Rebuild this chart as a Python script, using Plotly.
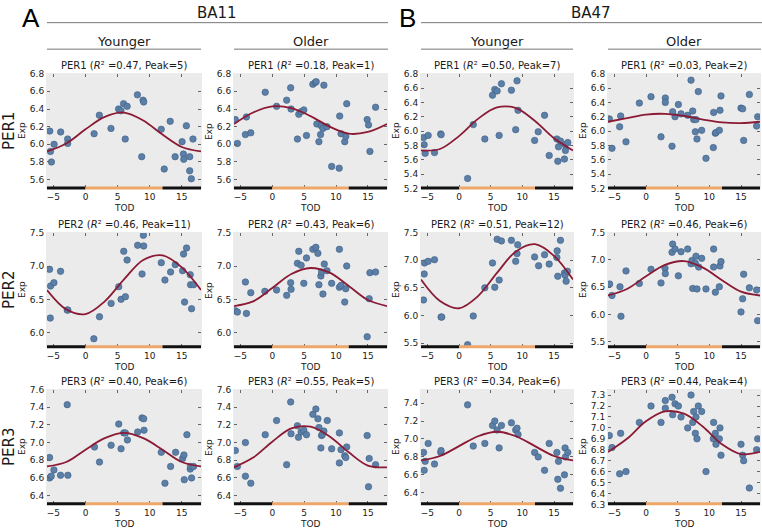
import plotly.graph_objects as go

# ------------------------------------------------------------------ data
TOD_TICKS = [-5, 0, 5, 10, 15]
TOD_RANGE = [-6, 18]
PHASE_EDGES = [-6, 0, 12, 18]
PHASE_COLORS = ["#111111", "#eea769", "#111111"]
GENES = ["PER1", "PER2", "PER3"]
REGIONS = ["BA11", "BA47"]
AGES = ["Younger", "Older"]
R2 = [[0.47, 0.18, 0.50, 0.03], [0.46, 0.43, 0.51, 0.46], [0.40, 0.55, 0.34, 0.44]]
PEAK = [[5, 1, 7, 2], [11, 6, 12, 6], [6, 5, 6, 4]]
FIT_TOD = [-6, -3, 0, 3, 6, 9, 12, 15, 18]

# BA11 younger
ba11_y_per1_tod = [-5.57, -5.46, -5.31, -4.9, -3.87, -2.78, -2.78, 1.34, 2.16, 3.97, 5.15, 5.52, 5.93, 6.19, 6.49, 8.09, 8.76, 8.97, 9.07, 11.8, 12.27, 13.2, 13.97, 15.05, 15.26, 15.31, 15.72, 16.24, 16.24, 16.49, 16.75]
ba11_y_per1_exp = [6.15, 5.92, 5.80, 6.00, 6.14, 6.06, 6.01, 6.12, 6.33, 6.18, 6.40, 6.38, 6.46, 6.06, 6.43, 6.56, 5.86, 6.50, 6.48, 6.17, 5.72, 6.26, 5.86, 6.03, 5.89, 5.83, 6.21, 5.86, 5.70, 5.61, 6.06]
ba11_y_per1_fit = [5.92, 6.01, 6.17, 6.31, 6.36, 6.27, 6.11, 5.97, 5.92]
ba11_y_per2_tod = [-5.6, -5.49, -5.44, -4.92, -3.89, -2.85, -2.75, 1.3, 2.18, 3.99, 5.18, 5.54, 5.96, 6.22, 6.48, 8.13, 8.81, 9.02, 9.07, 11.81, 12.38, 13.26, 13.99, 15.13, 15.28, 15.44, 15.75, 16.32, 16.37, 16.53, 16.84]
ba11_y_per2_exp = [6.95, 6.22, 6.70, 6.75, 6.92, 6.34, 6.34, 5.91, 6.24, 6.44, 6.69, 6.50, 7.22, 6.54, 7.09, 7.31, 6.88, 7.46, 7.30, 7.05, 6.79, 6.91, 7.02, 6.93, 7.18, 6.46, 7.27, 6.87, 6.72, 6.36, 6.72]
ba11_y_per2_fit = [6.64, 6.35, 6.28, 6.47, 6.80, 7.09, 7.16, 6.98, 6.64]
ba11_y_per3_tod = [-5.6, -5.6, -5.34, -4.92, -3.89, -2.85, -2.75, 1.4, 2.18, 3.99, 5.18, 5.54, 5.96, 6.22, 6.53, 8.13, 8.81, 9.07, 9.12, 11.81, 12.38, 13.26, 14.04, 15.13, 15.34, 15.39, 15.8, 16.32, 16.37, 16.53, 16.84]
ba11_y_per3_exp = [6.83, 6.60, 6.62, 6.69, 6.63, 7.43, 6.63, 6.95, 6.78, 6.97, 7.21, 6.93, 7.11, 7.11, 7.03, 7.12, 7.28, 7.27, 7.14, 6.89, 6.54, 6.73, 6.89, 6.82, 6.86, 6.58, 7.09, 6.70, 6.73, 6.60, 6.73]
ba11_y_per3_fit = [6.73, 6.78, 6.92, 7.05, 7.11, 7.05, 6.92, 6.78, 6.73]

# BA11 older
ba11_o_per1_tod = [-5.79, -5.47, -4.21, -4.05, -3.37, -1.1, 0.68, 2.26, 2.89, 2.95, 3.95, 4.16, 4.53, 4.95, 5.37, 6.37, 6.74, 6.89, 7.0, 7.32, 7.58, 7.68, 7.95, 8.1, 8.58, 9.32, 10.5, 10.58, 10.79, 11.37, 11.53, 11.68, 14.89, 15.1, 15.32, 16.21]
ba11_o_per1_exp = [6.28, 6.01, 6.11, 6.31, 6.13, 6.59, 6.43, 6.50, 6.64, 6.40, 6.06, 6.34, 6.37, 6.39, 6.10, 6.68, 6.70, 6.71, 6.23, 6.03, 6.11, 6.21, 6.18, 6.67, 6.20, 5.75, 5.73, 6.32, 6.12, 6.03, 6.09, 6.46, 6.28, 6.22, 5.92, 6.42]
ba11_o_per1_fit = [6.23, 6.36, 6.43, 6.41, 6.32, 6.20, 6.12, 6.14, 6.23]
ba11_o_per2_tod = [-5.79, -5.47, -4.21, -4.05, -3.37, -1.16, 0.68, 2.26, 2.89, 2.95, 3.95, 4.16, 4.53, 4.95, 5.37, 6.37, 6.84, 7.16, 7.32, 7.63, 7.74, 7.95, 8.16, 8.58, 9.32, 10.53, 10.53, 10.79, 11.37, 11.53, 11.68, 14.89, 15.21, 15.32, 16.21]
ba11_o_per2_exp = [6.33, 6.31, 6.76, 6.29, 6.60, 6.62, 6.64, 6.56, 6.75, 6.65, 7.04, 7.22, 7.01, 6.74, 7.12, 7.25, 7.28, 7.19, 6.72, 6.85, 6.91, 6.58, 7.03, 6.93, 6.74, 7.25, 6.68, 6.71, 6.46, 6.66, 7.00, 5.94, 6.51, 6.90, 6.91]
ba11_o_per2_fit = [6.40, 6.47, 6.67, 6.88, 6.97, 6.90, 6.70, 6.49, 6.40]
ba11_o_per3_tod = [-5.79, -5.47, -4.21, -4.21, -3.37, -1.1, 0.68, 2.26, 2.89, 2.95, 3.95, 4.11, 4.53, 4.95, 5.37, 6.37, 6.84, 7.16, 7.32, 7.63, 7.74, 7.84, 8.1, 8.63, 9.32, 10.53, 10.53, 10.79, 11.37, 11.53, 11.68, 14.89, 15.21, 15.1, 16.21]
ba11_o_per3_exp = [6.91, 6.73, 7.00, 6.62, 6.54, 7.09, 7.25, 6.75, 7.46, 7.10, 7.19, 7.06, 7.12, 7.14, 7.09, 7.32, 7.38, 7.27, 7.17, 6.94, 7.08, 7.09, 7.13, 7.25, 6.93, 7.11, 6.77, 6.92, 6.85, 6.83, 6.95, 7.08, 6.82, 6.50, 6.75]
ba11_o_per3_fit = [6.72, 6.83, 7.01, 7.16, 7.18, 7.07, 6.89, 6.74, 6.72]

# BA47 younger
ba47_y_per1_tod = [-5.6, -5.5, -5.34, -4.87, -3.87, -2.88, -2.83, 1.36, 2.25, 4.08, 5.29, 5.65, 6.02, 6.34, 6.7, 8.27, 8.95, 9.16, 9.32, 11.94, 12.51, 13.51, 14.24, 15.45, 15.6, 15.71, 16.02, 16.65, 16.75, 16.81, 17.17]
ba47_y_per1_exp = [5.91, 5.81, 5.69, 5.94, 5.70, 5.96, 5.95, 5.34, 6.09, 5.89, 6.50, 6.58, 6.56, 5.94, 6.66, 6.57, 6.02, 6.70, 6.29, 5.87, 5.99, 6.22, 5.66, 5.89, 5.58, 5.78, 5.86, 5.61, 5.81, 5.73, 5.84]
ba47_y_per1_fit = [5.73, 5.75, 5.93, 6.17, 6.33, 6.32, 6.14, 5.90, 5.73]
ba47_y_per2_tod = [-5.6, -5.5, -5.45, -4.87, -3.87, -2.83, -2.72, 1.36, 2.25, 4.08, 5.29, 5.65, 6.02, 6.34, 6.7, 8.27, 8.95, 9.16, 9.27, 11.94, 12.57, 13.51, 14.24, 15.45, 15.5, 15.6, 16.02, 16.65, 16.75, 16.91, 17.12]
ba47_y_per2_exp = [6.28, 6.75, 6.95, 6.98, 7.01, 5.97, 5.97, 5.47, 5.99, 6.50, 6.95, 6.51, 7.38, 6.64, 7.35, 7.36, 6.98, 7.12, 7.28, 7.06, 6.90, 7.10, 6.93, 7.05, 7.17, 6.71, 7.36, 6.77, 6.73, 6.62, 6.80]
ba47_y_per2_fit = [6.65, 6.26, 6.13, 6.35, 6.77, 7.16, 7.29, 7.08, 6.65]
ba47_y_per3_tod = [-5.6, -5.5, -5.34, -4.87, -3.87, -2.88, -2.83, 1.36, 2.25, 4.08, 5.29, 5.65, 6.02, 6.34, 6.7, 8.27, 8.95, 9.16, 9.32, 11.94, 12.51, 13.51, 14.24, 15.45, 15.6, 15.71, 16.02, 16.65, 16.75, 16.81, 17.17]
ba47_y_per3_exp = [6.85, 6.65, 6.75, 6.95, 6.72, 6.85, 6.87, 7.38, 6.92, 6.95, 7.15, 7.20, 7.10, 6.90, 7.15, 7.18, 7.10, 7.12, 7.05, 6.85, 6.80, 6.65, 6.95, 6.85, 6.55, 6.75, 6.45, 6.60, 6.90, 6.80, 6.85]
ba47_y_per3_fit = [6.76, 6.81, 6.92, 7.03, 7.08, 7.03, 6.92, 6.81, 6.76]

# BA47 older
ba47_o_per1_tod = [-5.79, -5.37, -4.16, -4.0, -3.16, -1.05, 0.79, 2.37, 3.05, 3.05, 4.11, 4.21, 4.58, 5.11, 5.53, 6.58, 7.11, 7.37, 7.53, 7.79, 7.89, 8.05, 8.26, 8.79, 9.47, 10.63, 10.68, 10.95, 11.05, 11.58, 11.68, 11.84, 15.0, 15.26, 15.42, 16.32, 17.47, 17.63]
ba47_o_per1_exp = [6.17, 5.76, 6.06, 6.21, 5.85, 6.39, 6.48, 5.92, 6.46, 6.40, 5.79, 6.27, 6.20, 6.37, 6.24, 6.22, 6.71, 6.28, 6.16, 5.99, 6.16, 5.89, 6.55, 6.01, 5.62, 5.77, 6.26, 5.97, 5.98, 6.01, 6.29, 6.49, 6.32, 6.31, 5.87, 6.51, 6.07, 6.20]
ba47_o_per1_fit = [6.13, 6.18, 6.23, 6.24, 6.21, 6.16, 6.12, 6.11, 6.13]
ba47_o_per2_tod = [-5.74, -5.37, -4.11, -3.95, -3.16, -1.05, 0.79, 2.37, 3.0, 3.05, 4.11, 4.21, 4.58, 5.11, 5.53, 6.58, 7.11, 7.26, 7.37, 7.79, 7.89, 8.05, 8.32, 8.79, 9.47, 10.68, 10.68, 10.95, 11.58, 11.68, 11.84, 15.0, 15.26, 15.42, 16.32, 17.47, 17.63]
ba47_o_per2_exp = [6.56, 6.35, 6.51, 5.97, 6.80, 6.57, 6.83, 6.58, 6.85, 6.75, 7.14, 7.29, 7.20, 6.71, 7.15, 7.20, 6.93, 6.99, 6.48, 6.94, 7.07, 6.47, 6.87, 7.03, 6.47, 7.20, 6.87, 6.41, 6.51, 6.89, 6.97, 6.05, 6.29, 6.74, 6.49, 6.45, 5.89]
ba47_o_per2_fit = [6.35, 6.47, 6.70, 6.91, 6.98, 6.86, 6.63, 6.42, 6.35]
ba47_o_per3_tod = [-5.79, -5.37, -4.16, -4.0, -3.16, -1.05, 0.79, 2.37, 3.05, 3.05, 4.11, 4.21, 4.58, 5.11, 5.53, 6.58, 7.11, 7.37, 7.53, 7.79, 7.89, 8.05, 8.26, 8.79, 9.47, 10.63, 10.68, 10.95, 11.05, 11.58, 11.68, 11.84, 15.0, 15.26, 15.42, 16.32, 17.47, 17.63]
ba47_o_per3_exp = [6.93, 6.82, 6.58, 6.95, 6.60, 7.05, 7.20, 7.05, 7.25, 7.18, 7.28, 7.12, 7.22, 7.20, 7.10, 7.00, 7.30, 7.05, 7.15, 6.95, 7.10, 6.90, 7.20, 7.15, 6.60, 6.90, 7.05, 6.95, 6.85, 6.90, 7.00, 6.75, 6.85, 6.75, 6.70, 6.45, 6.80, 6.90]
ba47_o_per3_fit = [6.78, 6.90, 7.06, 7.15, 7.13, 7.01, 6.85, 6.76, 6.78]

PANELS = [
    [(ba11_y_per1_tod, ba11_y_per1_exp, ba11_y_per1_fit), (ba11_o_per1_tod, ba11_o_per1_exp, ba11_o_per1_fit),
     (ba47_y_per1_tod, ba47_y_per1_exp, ba47_y_per1_fit), (ba47_o_per1_tod, ba47_o_per1_exp, ba47_o_per1_fit)],
    [(ba11_y_per2_tod, ba11_y_per2_exp, ba11_y_per2_fit), (ba11_o_per2_tod, ba11_o_per2_exp, ba11_o_per2_fit),
     (ba47_y_per2_tod, ba47_y_per2_exp, ba47_y_per2_fit), (ba47_o_per2_tod, ba47_o_per2_exp, ba47_o_per2_fit)],
    [(ba11_y_per3_tod, ba11_y_per3_exp, ba11_y_per3_fit), (ba11_o_per3_tod, ba11_o_per3_exp, ba11_o_per3_fit),
     (ba47_y_per3_tod, ba47_y_per3_exp, ba47_y_per3_fit), (ba47_o_per3_tod, ba47_o_per3_exp, ba47_o_per3_fit)],
]

# ------------------------------------------------------------------ layout constants
W, H = 762, 531
COL_X = [(47, 201), (234, 387), (421, 573), (608, 760)]
ROW_Y = [(70, 187), (232, 349), (392, 509)]
YRANGE = [[[5.5, 6.8], [5.5, 6.8], [5.2, 6.8], [5.2, 6.8]],
          [[5.78, 7.5], [5.78, 7.5], [5.42, 7.5], [5.4, 7.5]],
          [[6.3, 7.6], [6.3, 7.6], [6.27, 7.55], [6.3, 7.35]]]
DTICK = [[0.2, 0.2, 0.2, 0.2], [0.5, 0.5, 0.5, 0.5], [0.2, 0.2, 0.2, 0.1]]

BG = "#ebebeb"
DOT = "#5b7fa6"
DOT_EDGE = "#3e5f86"
CURVE = "#8b1a35"
FONT = "DejaVu Sans"
TXT = "#1a1a1a"


def px(x):
    return x / W


def py(y):
    return 1 - y / H


fig = go.Figure()
layout = dict(width=W, height=H, margin=dict(l=0, r=0, t=0, b=0),
              paper_bgcolor="white", plot_bgcolor=BG, showlegend=False,
              font=dict(family=FONT, size=9, color=TXT))
annotations = []
shapes = []

for r in range(3):
    for c in range(4):
        i = r * 4 + c + 1
        xa = "x" if i == 1 else f"x{i}"
        ya = "y" if i == 1 else f"y{i}"
        tod, exp, fit = PANELS[r][c]
        fig.add_trace(go.Scatter(x=tod, y=exp, mode="markers", xaxis=xa, yaxis=ya,
                                 marker=dict(size=6.5, color=DOT, line=dict(width=0.6, color=DOT_EDGE))))
        fig.add_trace(go.Scatter(x=FIT_TOD, y=fit, mode="lines", xaxis=xa, yaxis=ya,
                                 line=dict(color=CURVE, width=1.8, shape="spline", smoothing=1.0)))
        x0, x1 = COL_X[c]
        y0, y1 = ROW_Y[r]
        layout[f"xaxis{i}"] = dict(domain=[px(x0), px(x1)], anchor=ya, range=TOD_RANGE,
                                   tickvals=TOD_TICKS, ticks="inside", ticklen=3, tickcolor="#666",
                                   showgrid=False, zeroline=False, showline=True, linecolor=BG,
                                   mirror="ticks", tickfont=dict(size=9, color=TXT))
        layout[f"yaxis{i}"] = dict(domain=[py(y1), py(y0)], anchor=xa, range=YRANGE[r][c],
                                   dtick=DTICK[r][c], tick0=0, tickformat=".1f", ticks="inside",
                                   ticklen=3, tickcolor="#666", showgrid=False, zeroline=False,
                                   showline=True, linecolor=BG, mirror="ticks",
                                   tickfont=dict(size=9, color=TXT))
        # light/dark bar
        for k in range(3):
            shapes.append(dict(type="line", xref=xa, yref=f"{ya} domain",
                               x0=PHASE_EDGES[k], x1=PHASE_EDGES[k + 1], y0=0.005, y1=0.005,
                               line=dict(color=PHASE_COLORS[k], width=3)))
        title = f"{GENES[r]} (<i>R</i>² ={R2[r][c]:.2f}, Peak={PEAK[r][c]})"
        annotations.append(dict(text=title, xref="paper", yref="paper", x=px((x0 + x1) / 2), y=py(y0 - 1),
                                xanchor="center", yanchor="bottom", showarrow=False,
                                font=dict(size=10, family=FONT, color=TXT)))
        annotations.append(dict(text="Exp", xref="paper", yref="paper", x=px(x0 - 25), y=py((y0 + y1) / 2),
                                xanchor="center", yanchor="middle", textangle=-90, showarrow=False,
                                font=dict(size=9, family=FONT, color=TXT)))
        annotations.append(dict(text="TOD", xref="paper", yref="paper", x=px((x0 + x1) / 2), y=py(y1 + 20),
                                xanchor="center", yanchor="middle", showarrow=False,
                                font=dict(size=9, family=FONT, color=TXT)))

# row labels
for r in range(3):
    y0, y1 = ROW_Y[r]
    annotations.append(dict(text=GENES[r], xref="paper", yref="paper", x=px(9), y=py((y0 + y1) / 2),
                            xanchor="center", yanchor="middle", textangle=-90, showarrow=False,
                            font=dict(size=15, family=FONT, color=TXT)))

# age headers
for c in range(4):
    x0, x1 = COL_X[c]
    annotations.append(dict(text=AGES[c % 2], xref="paper", yref="paper", x=px((x0 + x1) / 2), y=py(37),
                            xanchor="center", yanchor="middle", showarrow=False,
                            font=dict(size=13, family=FONT, color=TXT)))
    shapes.append(dict(type="line", xref="paper", yref="paper", x0=px(x0), x1=px(x1 if c % 2 == 0 else x1 + 1),
                       y0=py(45), y1=py(45), line=dict(color="#777", width=1)))

# region headers
REGION_SPAN = [(47, 388), (421, 762)]
LETTER_X = [31, 407]
for g in range(2):
    a, b = REGION_SPAN[g]
    annotations.append(dict(text=REGIONS[g], xref="paper", yref="paper", x=px((a + b) / 2 - 1), y=py(8),
                            xanchor="center", yanchor="middle", showarrow=False,
                            font=dict(size=15, family=FONT, color=TXT)))
    shapes.append(dict(type="line", xref="paper", yref="paper", x0=px(a), x1=px(b),
                       y0=py(18), y1=py(18), line=dict(color="#777", width=1)))
    annotations.append(dict(text="AB"[g], xref="paper", yref="paper", x=px(LETTER_X[g]), y=py(13),
                            xanchor="center", yanchor="middle", showarrow=False,
                            font=dict(size=26, family="Liberation Sans", color="#000")))

layout["annotations"] = annotations
layout["shapes"] = shapes
fig.update_layout(**layout)
fig.write_html("out.html", config={"displayModeBar": False},
               post_script="document.body.style.margin='0px';document.body.style.overflow='hidden';")
